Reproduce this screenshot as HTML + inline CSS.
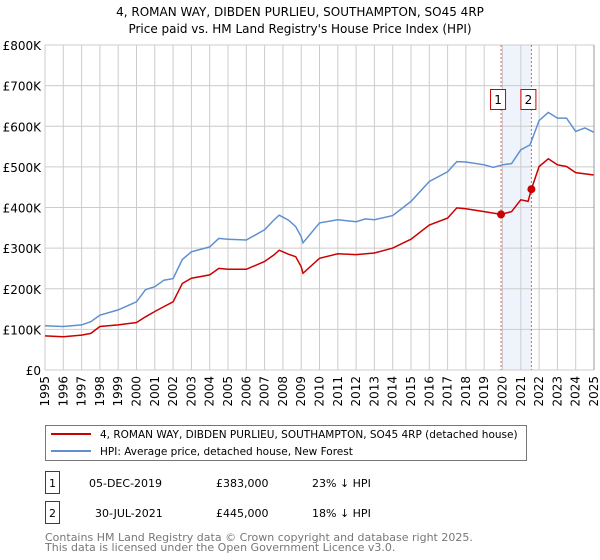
<!DOCTYPE html>
<html><head><meta charset="utf-8"><style>
body{margin:0;background:#fff;font-family:"Liberation Sans","DejaVu Sans",sans-serif;}
#wrap{position:relative;width:600px;height:560px;overflow:hidden}
text{font-family:"DejaVu Sans","Liberation Sans",sans-serif}
</style></head><body><div id="wrap">
<svg id="c" width="600" height="560"></svg>
</div>
<script>
const hpiYears=[1995,1996,1997,1997.5,1998,1999,2000,2000.5,2001,2001.5,2002,2002.5,2003,2004,2004.5,2005,2006,2007,2007.5,2007.8,2008.3,2008.7,2009,2009.1,2010,2011,2012,2012.5,2013,2014,2015,2016,2017,2017.5,2018,2019,2019.5,2020,2020.5,2021,2021.5,2022,2022.5,2023,2023.5,2024,2024.5,2025];
const hpiValues=[109,107,111,119,135,148,168,198,205,221,225,272,291,303,324,322,320,345,369,381,369,353,328,313,362,370,365,372,370,380,415,464,488,513,512,505,499,505,508,542,554,614,634,620,620,587,596,585];
const priceYears=[1995,1996,1997,1997.5,1998,1999,2000,2000.5,2001,2001.5,2002,2002.5,2003,2004,2004.5,2005,2006,2007,2007.5,2007.8,2008.3,2008.7,2009,2009.1,2010,2011,2012,2013,2014,2015,2016,2017,2017.5,2018,2019,2019.92,2020.5,2021,2021.4,2021.58,2022,2022.5,2023,2023.5,2024,2025];
const priceValues=[84,82,86,90,107,111,117,131,144,156,168,213,226,234,250,248,248,267,283,295,285,279,254,238,275,286,284,288,300,322,357,374,399,397,390,383,390,419,415,445,501,520,505,501,486,480];
const saleYears=[2019.92,2021.58];
const saleValues=[383,445];
const saleLabels=["1","2"];
const yTicks=[0,100,200,300,400,500,600,700,800];
const yTickLabels=["£0","£100K","£200K","£300K","£400K","£500K","£600K","£700K","£800K"];
const xTicks=[1995,1996,1997,1998,1999,2000,2001,2002,2003,2004,2005,2006,2007,2008,2009,2010,2011,2012,2013,2014,2015,2016,2017,2018,2019,2020,2021,2022,2023,2024,2025];

const NS="http://www.w3.org/2000/svg";
const svg=document.getElementById('c');
const L=45,R=594,T=45,B=370;
const xs=y=>L+(y-1995)/30*(R-L);
const ys=v=>B-v/800*(B-T);
function mk(tag,attrs,parent){const e=document.createElementNS(NS,tag);for(const k in attrs)e.setAttribute(k,attrs[k]);(parent||svg).appendChild(e);return e;}
function tx(x,y,s,attrs){const e=mk('text',Object.assign({x:x,y:y},attrs||{}));e.textContent=s;return e;}

let t=tx(300,16,"4, ROMAN WAY, DIBDEN PURLIEU, SOUTHAMPTON, SO45 4RP",{"text-anchor":"middle","font-size":"12",fill:"#000"});


t=tx(300,33,"Price paid vs. HM Land Registry's House Price Index (HPI)",{"text-anchor":"middle","font-size":"12",fill:"#000"});



let band=mk('rect',{x:xs(saleYears[0]),y:T,width:xs(saleYears[1])-xs(saleYears[0]),height:B-T,fill:"#eef3fc"});



yTicks.forEach((v,i)=>{
 let g=mk('line',{x1:L,x2:R,y1:ys(v),y2:ys(v),stroke:"#cccccc","stroke-width":1});
 
 
 let l=tx(L-4,ys(v)+5,yTickLabels[i],{"text-anchor":"end","font-size":"12",fill:"#000"});
 
 
});
xTicks.forEach(y=>{
 let g=mk('line',{x1:xs(y),x2:xs(y),y1:T,y2:B,stroke:"#cccccc","stroke-width":1});
 
 
 let l=tx(0,0,String(y),{"font-size":"12",fill:"#000","text-anchor":"end",transform:`translate(${xs(y)+4},${B+6}) rotate(-90)`});
 
 
});

saleYears.forEach((y,i)=>{
 let d=mk('line',{x1:xs(y),x2:xs(y),y1:T,y2:B,stroke:"#e06060","stroke-width":1,"stroke-dasharray":"2,2"});
 
 
 let bx=mk('rect',{x:xs(y)-10.5,y:89.5,width:15,height:20,fill:"#fff",stroke:"#cc0000","stroke-width":1});
 
 
 let l=tx(xs(y)-3,104,saleLabels[i],{"text-anchor":"middle","font-size":"12",fill:"#000"});
 
 
});

function path(xa,va){return xa.map((y,i)=>(i?'L':'M')+xs(y).toFixed(1)+','+ys(va[i]).toFixed(1)).join(' ');}
let hp=mk('path',{d:path(hpiYears,hpiValues),fill:"none",stroke:"#6090d0","stroke-width":1.5});


let pp=mk('path',{d:path(priceYears,priceValues),fill:"none",stroke:"#cc0000","stroke-width":1.5});


saleYears.forEach((y,i)=>{
 let c=mk('circle',{cx:xs(y),cy:ys(saleValues[i]),r:4,fill:"#cc0000"});
 
 
});
let ax=mk('line',{x1:R,x2:R,y1:T,y2:B,stroke:"#999","stroke-width":1});



let lg=mk('rect',{x:45.5,y:425.5,width:481,height:35,fill:"#fff",stroke:"#777","stroke-width":1});


let l1=mk('line',{x1:51,x2:91,y1:434,y2:434,stroke:"#cc0000","stroke-width":2});


t=tx(100,438,"4, ROMAN WAY, DIBDEN PURLIEU, SOUTHAMPTON, SO45 4RP (detached house)",{"font-size":"10.5",fill:"#000"});


let l2=mk('line',{x1:51,x2:91,y1:451,y2:451,stroke:"#6090d0","stroke-width":2});


t=tx(100,455,"HPI: Average price, detached house, New Forest",{"font-size":"10.5",fill:"#000"});



const rows=[["1","05-DEC-2019","£383,000","23% ↓ HPI",483,89],["2","30-JUL-2021","£445,000","18% ↓ HPI",513,95]];
rows.forEach(r=>{
 let b=mk('rect',{x:45.5,y:r[4]-11.5,width:14,height:22,fill:"#fff",stroke:"#cc0000","stroke-width":1});
 
 
 let a=tx(52.5,r[4]+4,r[0],{"text-anchor":"middle","font-size":"11",fill:"#000"});
 
 
 a=tx(r[5],r[4]+4,r[1],{"font-size":"11",fill:"#000"});
 
 
 a=tx(216,r[4]+4,r[2],{"font-size":"11",fill:"#000"});
 
 
 a=tx(312,r[4]+4,r[3],{"font-size":"11",fill:"#000"});
 
 
});
t=tx(45,541,"Contains HM Land Registry data © Crown copyright and database right 2025.",{"font-size":"11",fill:"#777"});


t=tx(45,551,"This data is licensed under the Open Government Licence v3.0.",{"font-size":"11",fill:"#777"});


</script></body></html>
